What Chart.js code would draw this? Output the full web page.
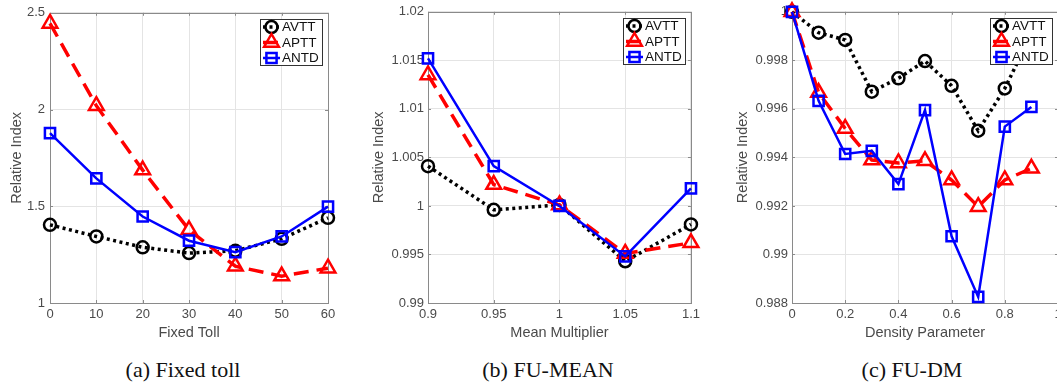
<!DOCTYPE html>
<html lang="en">
<head>
  <meta charset="UTF-8" />
  <title>Relative Index</title>
  <script src="https://cdn.jsdelivr.net/npm/chart.js"></script>
  <style>
    body { margin: 0; background: #fff; overflow: hidden; }
    #figure { position: relative; width: 1057px; height: 384px; overflow: hidden; }
    .panel { position: absolute; top: 0; }
    .caption {
      position: absolute; top: 357px; width: 300px; line-height: 26px;
      text-align: center; color: #111;
      font-family: 'Liberation Serif', 'Times New Roman', serif; font-size: 22px;
    }
  </style>
</head>
<body>
  <div id="figure">
    <canvas id="tollChart" class="panel" style="left:0px" width="340" height="345"></canvas>
    <canvas id="meanChart" class="panel" style="left:352px" width="352" height="345"></canvas>
    <canvas id="densityChart" class="panel" style="left:704px" width="370" height="345"></canvas>
    <div class="caption" style="left:33px">(a) Fixed toll</div>
    <div class="caption" style="left:398px">(b) FU-MEAN</div>
    <div class="caption" style="left:762px">(c) FU-DM</div>
  </div>

  <script>
    // (a) fixed toll
    const tollX = [0, 10, 20, 30, 40, 50, 60];
    const tollAVTT = [1.404, 1.344, 1.288, 1.258, 1.27, 1.332, 1.44];
    const tollAPTT = [2.445, 2.02, 1.687, 1.378, 1.19, 1.139, 1.18];
    const tollANTD = [1.878, 1.644, 1.447, 1.322, 1.263, 1.344, 1.498];

    // (b) mean multiplier
    const meanX = [0.9, 0.95, 1, 1.05, 1.1];
    const meanAVTT = [1.0041, 0.9996, 1.0001, 0.9943, 0.9981];
    const meanAPTT = [1.0135, 1.0022, 1.0001, 0.9951, 0.9962];
    const meanANTD = [1.0152, 1.0041, 1.0, 0.9948, 1.0018];

    // (c) density parameter
    const densX = [0, 0.1, 0.2, 0.3, 0.4, 0.5, 0.6, 0.7, 0.8, 0.9];
    const densAVTT = [1.0, 0.99914, 0.99884, 0.99671, 0.99726, 0.99797, 0.99695, 0.9951, 0.99684, 0.9991];
    const densAPTT = [1.0, 0.99667, 0.99519, 0.99389, 0.99377, 0.99386, 0.99307, 0.99197, 0.99307, 0.99355];
    const densANTD = [1.0, 0.99633, 0.99414, 0.99427, 0.9929, 0.99595, 0.99075, 0.98825, 0.99527, 0.99608];

    const seriesNames = ['AVTT', 'APTT', 'ANTD'];

    const axisColor = '#8a8a8a';
    const gridColor = '#e4e4e4';
    const labelColor = '#4a4a4a';
    const sans = "'Liberation Sans', Arial, Helvetica, sans-serif";

    // marker path, same geometry as Chart.js point styles
    function markerPath(ctx, style, x, y, r) {
      ctx.beginPath();
      if (style === 'circle') {
        ctx.arc(x, y, r, 0, Math.PI * 2);
      } else if (style === 'triangle') {
        ctx.moveTo(x, y - r);
        ctx.lineTo(x + r * 0.866, y + r / 2);
        ctx.lineTo(x - r * 0.866, y + r / 2);
        ctx.closePath();
      } else {
        const s = r * Math.SQRT1_2;
        ctx.rect(x - s, y - s, 2 * s, 2 * s);
      }
    }

    // MATLAB style box + small inward ticks
    const frameAndTicks = {
      id: 'frameAndTicks',
      beforeDatasetsDraw(chart) {
        const { ctx, chartArea: a, scales: { x, y } } = chart;
        ctx.save();
        ctx.strokeStyle = axisColor;
        ctx.lineWidth = 1;
        ctx.beginPath();
        x.ticks.forEach(t => {
          const px = Math.round(x.getPixelForValue(t.value)) + 0.5;
          ctx.moveTo(px, a.bottom); ctx.lineTo(px, a.bottom - 3);
          ctx.moveTo(px, a.top); ctx.lineTo(px, a.top + 3);
        });
        y.ticks.forEach(t => {
          const py = Math.round(y.getPixelForValue(t.value)) + 0.5;
          ctx.moveTo(a.left, py); ctx.lineTo(a.left + 3, py);
          ctx.moveTo(a.right, py); ctx.lineTo(a.right - 3, py);
        });
        ctx.stroke();
        ctx.strokeRect(Math.round(a.left) + 0.5, Math.round(a.top) + 0.5,
          Math.round(a.right - a.left), Math.round(a.bottom - a.top));
        ctx.restore();
      }
    };

    // legend box inside the top right corner of the plot
    const boxLegend = {
      id: 'boxLegend',
      afterDatasetsDraw(chart) {
        const { ctx, chartArea: a } = chart;
        const w = 62, h = 46;
        const bx = Math.round(a.right - 6 - w), by = Math.round(a.top + 6);
        ctx.save();
        ctx.fillStyle = '#fff';
        ctx.fillRect(bx, by, w, h);
        ctx.strokeStyle = '#333';
        ctx.lineWidth = 1;
        ctx.strokeRect(bx + 0.5, by + 0.5, w, h);
        seriesNames.forEach((name, i) => {
          const ds = chart.data.datasets.find(d => d.label === name);
          const cy = by + 8 + i * 15.5;
          ctx.strokeStyle = ds.borderColor;
          ctx.lineWidth = ds.borderWidth;
          ctx.setLineDash(ds.borderDash || []);
          ctx.beginPath();
          ctx.moveTo(bx + 3, cy);
          ctx.lineTo(bx + 20, cy);
          ctx.stroke();
          ctx.setLineDash([]);
          ctx.lineWidth = ds.pointBorderWidth;
          markerPath(ctx, ds.pointStyle, bx + 11.5, cy, ds.pointRadius);
          ctx.stroke();
          ctx.fillStyle = '#111';
          ctx.font = '13.5px ' + sans;
          ctx.textBaseline = 'middle';
          ctx.fillText(name, bx + 22, cy + 0.5);
        });
        ctx.restore();
      }
    };

    function pairs(xs, ys) {
      return xs.map((v, i) => ({ x: v, y: ys[i] }));
    }

    function buildDatasets(xs, avtt, aptt, antd) {
      return [
        { label: 'AVTT', data: pairs(xs, avtt), borderColor: '#000000', borderWidth: 3.5,
          borderDash: [3, 3.5], pointStyle: 'circle', pointRadius: 6, order: 2 },
        { label: 'APTT', data: pairs(xs, aptt), borderColor: '#ff0000', borderWidth: 3.5,
          borderDash: [15, 8], pointStyle: 'triangle', pointRadius: 8.5, order: 1 },
        { label: 'ANTD', data: pairs(xs, antd), borderColor: '#0000ff', borderWidth: 2.5,
          pointStyle: 'rect', pointRadius: 7.2, order: 0 }
      ].map(ds => Object.assign(ds, {
        pointBorderColor: ds.borderColor,
        pointBackgroundColor: 'rgba(0,0,0,0)',
        pointBorderWidth: 2.5,
        pointHoverRadius: ds.pointRadius,
        fill: false,
        tension: 0,
        clip: false
      }));
    }

    const fmt = v => String(+Number(v).toFixed(4));

    function makeChart(id, datasets, o) {
      return new Chart(document.getElementById(id), {
        type: 'line',
        data: { datasets },
        options: {
          responsive: false,
          animation: false,
          layout: { padding: { top: o.top, right: o.right, left: 0, bottom: 0 } },
          plugins: { legend: { display: false }, tooltip: { enabled: false } },
          scales: {
            x: {
              type: 'linear', min: o.xMin, max: o.xMax,
              ticks: { stepSize: o.xStep, padding: 4, autoSkip: false, maxRotation: 0,
                color: labelColor, font: { family: sans, size: 13 }, callback: fmt },
              grid: { color: gridColor, drawTicks: false },
              border: { display: false },
              title: { display: true, text: o.xTitle, color: labelColor,
                font: { family: sans, size: 14.5 }, padding: { top: 0, bottom: 3 } },
              afterFit: s => { s.height = 42; }
            },
            y: {
              type: 'linear', min: o.yMin, max: o.yMax,
              ticks: { stepSize: o.yStep, padding: o.yPad, autoSkip: false,
                color: labelColor, font: { family: sans, size: 13 }, callback: fmt },
              grid: { color: gridColor, drawTicks: false },
              border: { display: false },
              title: { display: true, text: 'Relative Index', color: labelColor,
                font: { family: sans, size: 14.5 }, padding: { top: o.titlePad, bottom: 0 } },
              afterFit: s => { s.width = o.yWidth; }
            }
          }
        },
        plugins: [frameAndTicks, boxLegend]
      });
    }

    makeChart('tollChart', buildDatasets(tollX, tollAVTT, tollAPTT, tollANTD), {
      top: 10.5, right: 12, yWidth: 50, yPad: 5, titlePad: 8,
      xMin: 0, xMax: 60, xStep: 10, xTitle: 'Fixed Toll',
      yMin: 1, yMax: 2.5, yStep: 0.5
    });

    makeChart('meanChart', buildDatasets(meanX, meanAVTT, meanAPTT, meanANTD), {
      top: 11.5, right: 11, yWidth: 76, yPad: 4, titlePad: 18,
      xMin: 0.9, xMax: 1.1, xStep: 0.05, xTitle: 'Mean Multiplier',
      yMin: 0.99, yMax: 1.02, yStep: 0.005
    });

    makeChart('densityChart', buildDatasets(densX, densAVTT, densAPTT, densANTD), {
      top: 10.5, right: 16, yWidth: 88, yPad: 4, titlePad: 30.5,
      xMin: 0, xMax: 1, xStep: 0.2, xTitle: 'Density Parameter',
      yMin: 0.988, yMax: 1, yStep: 0.002
    });
  </script>
</body>
</html>
